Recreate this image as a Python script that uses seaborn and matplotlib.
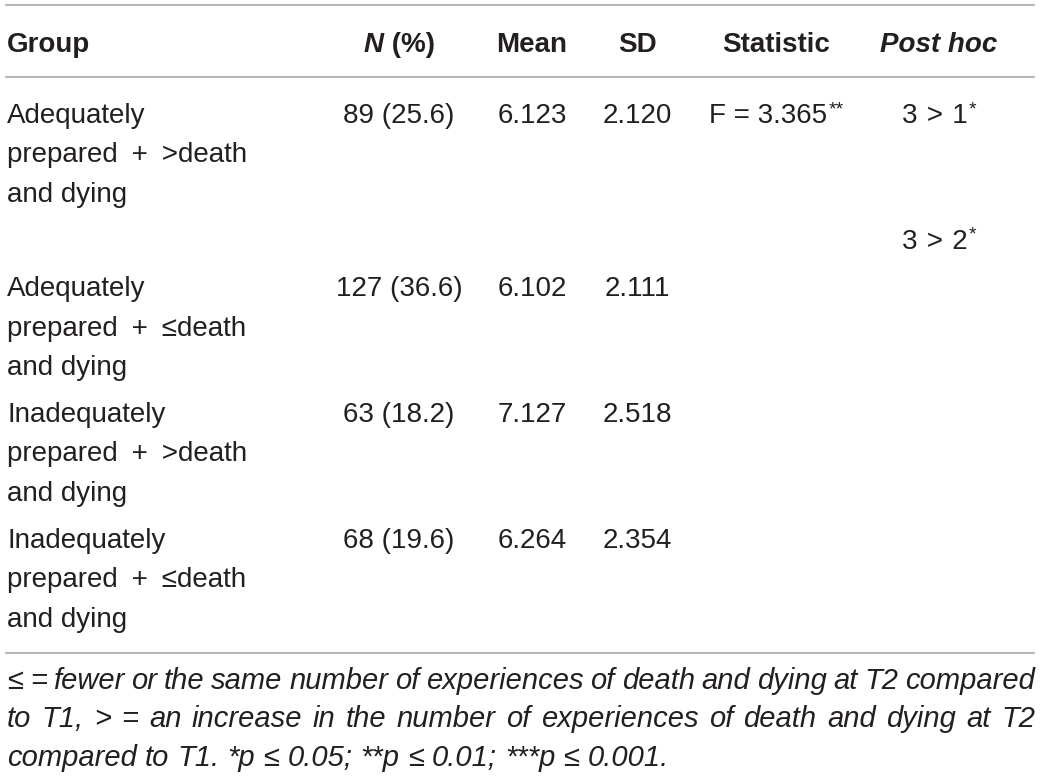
import matplotlib
matplotlib.use("Agg")
import matplotlib.pyplot as plt
import seaborn as sns
import pandas as pd
from matplotlib import font_manager

# table content
headers = ["Group", "N (%)", "Mean", "SD", "Statistic", "Post hoc"]
groups = [
    ["Adequately", "prepared + >death", "and dying"],
    [],
    ["Adequately", "prepared + ≤death", "and dying"],
    ["Inadequately", "prepared + >death", "and dying"],
    ["Inadequately", "prepared + ≤death", "and dying"],
]
n_pct = ["89 (25.6)", "", "127 (36.6)", "63 (18.2)", "68 (19.6)"]
means = ["6.123", "", "6.102", "7.127", "6.264"]
sds = ["2.120", "", "2.111", "2.518", "2.354"]
statistic = ["F = 3.365**", "", "", "", ""]
post_hoc = ["3 > 1*", "3 > 2*", "", "", ""]

note_lines = [
    "≤ = fewer or the same number of experiences of death and dying at T2 compared",
    "to T1, > = an increase in the number of experiences of death and dying at T2",
    "compared to T1. *p ≤ 0.05; **p ≤ 0.01; ***p ≤ 0.001.",
]

df = pd.DataFrame({"n": n_pct, "mean": means, "sd": sds,
                   "stat": statistic, "post": post_hoc})

sns.set_theme(style="white")
names = {f.name for f in font_manager.fontManager.ttflist}
body_font = "Liberation Sans" if "Liberation Sans" in names else "DejaVu Sans"
note_font = "Liberation Sans Narrow" if "Liberation Sans Narrow" in names else body_font
plt.rcParams["font.family"] = [body_font, "DejaVu Sans"]

TXT = "#231f20"
RULE = "#b4b4b4"
FS = 20
NOTE_FS = 21

fig = plt.figure(figsize=(10.41, 7.76), dpi=100)
ax = fig.add_axes([0, 0, 1, 1])
ax.set_xlim(0, 1041)
ax.set_ylim(776, 0)
ax.axis("off")
renderer = fig.canvas.get_renderer()


def wid(t):
    return t.get_window_extent(renderer).width


def pieces_centered(pieces, xc, y):
    objs = [ax.text(0, y, s, fontsize=FS, fontweight="bold", fontstyle=st,
                    color=TXT, va="baseline", ha="left") for s, st in pieces]
    x = xc - sum(wid(o) for o in objs) / 2
    for o in objs:
        o.set_x(x)
        x += wid(o)


def cell(val, xc, y):
    # trailing asterisks drawn as small superscripts
    base = val.rstrip("*")
    stars = val[len(base):]
    base = base.replace(" > ", "\u2004>\u2004")
    t1 = ax.text(0, y, base, fontsize=FS, color=TXT, va="baseline")
    t2 = ax.text(0, y - 9, stars, fontsize=14, color=TXT, va="baseline")
    w1 = wid(t1)
    w2 = wid(t2) if stars else 0
    x = xc - (w1 + w2) / 2
    t1.set_x(x)
    t2.set_x(x + w1 + 1)


# rules
for y in (5, 77, 653):
    ax.plot([5, 1035], [y, y], color=RULE, lw=1.4, solid_capstyle="butt")

# header
col_x = [7, 399, 532, 637, 776, 939]
hb = 52
ax.text(col_x[0], hb, headers[0], fontsize=FS, fontweight="bold", color=TXT, va="baseline")
pieces_centered([("N", "italic"), (" (%)", "normal")], col_x[1], hb)
for j in (2, 3, 4):
    pieces_centered([(headers[j], "normal")], col_x[j], hb)
pieces_centered([(headers[5], "italic")], col_x[5], hb)

# body
line_h = 39.3
y = 123
cols = ["n", "mean", "sd", "stat", "post"]
for i, g in enumerate(groups):
    for k, line in enumerate(g):
        ax.text(col_x[0], y + k * line_h, line.replace(" + ", "\u2002+\u2002"),
                fontsize=FS, color=TXT, va="baseline")
    for j, c in enumerate(cols):
        val = df.loc[i, c]
        if val:
            cell(val, col_x[j + 1], y)
    y += max(len(g), 1) * line_h + 8

# footnote, first two lines justified
note_y = [689, 727, 766]
x0, x1 = 7, 1035
nfam = [note_font, "DejaVu Sans"]
for k, line in enumerate(note_lines):
    words = line.split(" ")
    objs = [ax.text(0, note_y[k], w, fontsize=NOTE_FS, fontstyle="italic", color=TXT,
                    family=nfam, va="baseline") for w in words]
    ws = [wid(o) for o in objs]
    if k < 2:
        gap = (x1 - x0 - sum(ws)) / (len(words) - 1)
    else:
        sp = ax.text(0, 0, "a a", fontsize=NOTE_FS, fontstyle="italic", family=nfam)
        sp2 = ax.text(0, 0, "aa", fontsize=NOTE_FS, fontstyle="italic", family=nfam)
        gap = wid(sp) - wid(sp2)
        sp.remove()
        sp2.remove()
    x = x0
    for o, w in zip(objs, ws):
        o.set_x(x)
        x += w + gap

fig.savefig("out.png", dpi=100)
